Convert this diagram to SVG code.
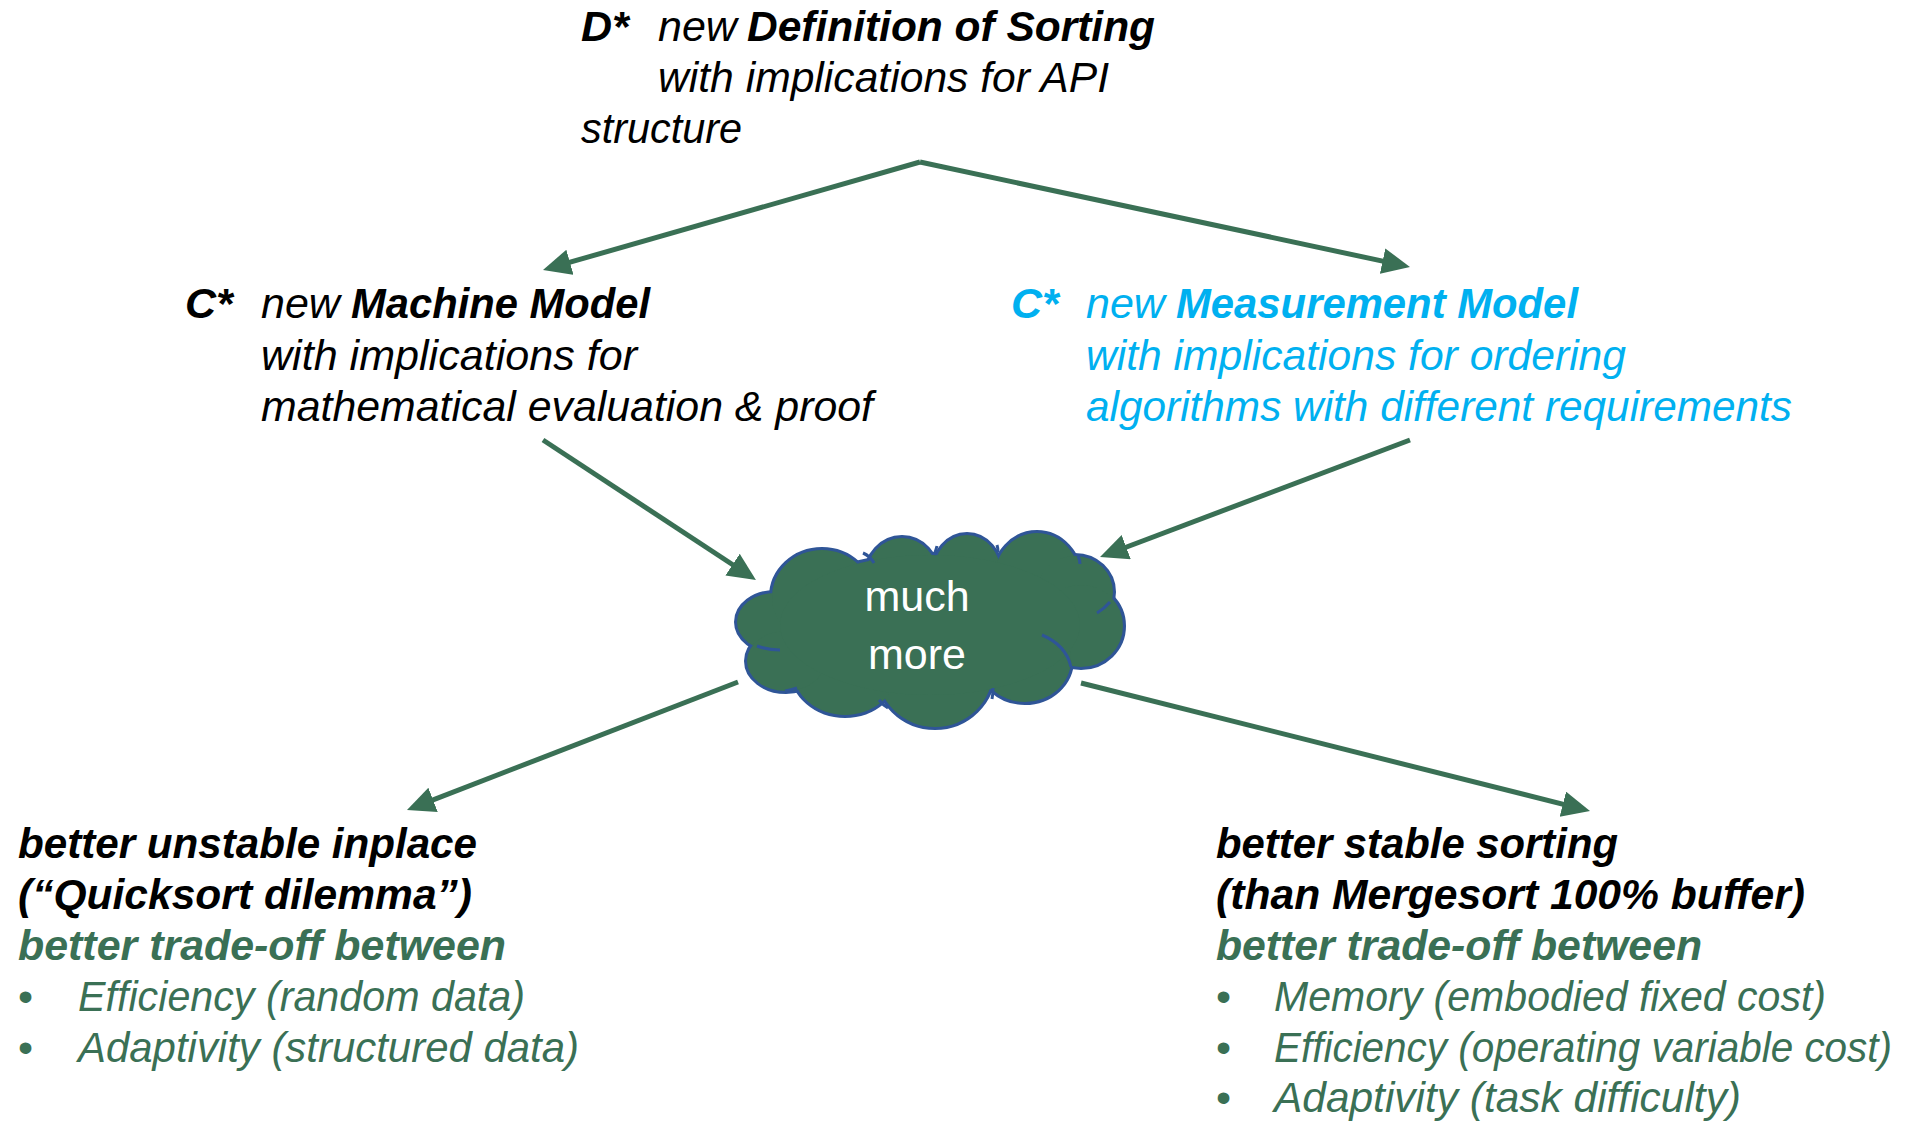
<svg xmlns="http://www.w3.org/2000/svg" width="1906" height="1123" viewBox="0 0 1906 1123">
<style>
text{font-family:"Liberation Sans",Arial,sans-serif;font-size:43px;font-style:italic}
.b{font-weight:bold}
.k{fill:#000}
.c{fill:#00B0F0}
.g{fill:#3A7055}
.bul{font-style:normal}
.conn line{stroke:#3A7055;stroke-width:5;marker-end:url(#ah)}
.inner{fill:none;stroke:#2F5597;stroke-width:3}
</style>
<defs>
<marker id="ah" markerUnits="userSpaceOnUse" markerWidth="30" markerHeight="28" refX="18" refY="13" orient="auto" viewBox="0 0 30 28">
<path d="M0,0 L28,13 L0,26 Z" fill="#3A7055"/>
</marker>
<g id="cloudShapes">
<ellipse cx="775" cy="622" rx="38" ry="29"/>
<ellipse cx="822" cy="597" rx="50" ry="47"/>
<ellipse cx="902" cy="577" rx="36" ry="39"/>
<ellipse cx="967" cy="574" rx="34" ry="39"/>
<ellipse cx="1037" cy="580" rx="43" ry="47"/>
<ellipse cx="1075" cy="592" rx="38" ry="36"/>
<ellipse cx="1081" cy="626" rx="42" ry="41"/>
<ellipse cx="1025" cy="660" rx="46" ry="42"/>
<ellipse cx="935" cy="670" rx="58" ry="57"/>
<ellipse cx="845" cy="670" rx="52" ry="45"/>
<ellipse cx="786" cy="661" rx="39" ry="30"/>
<ellipse cx="930" cy="625" rx="150" ry="70"/>
</g>
</defs>
<rect width="1906" height="1123" fill="#fff"/>

<g id="connectors" class="conn">
<line x1="920" y1="162" x2="552.6" y2="267.2"/>
<line x1="920" y1="162" x2="1400.2" y2="264.9"/>
<line x1="543" y1="440" x2="747.6" y2="574.5"/>
<line x1="1410" y1="440" x2="1109.4" y2="553.5"/>
<line x1="738" y1="682" x2="416.3" y2="806.4"/>
<line x1="1081" y1="683" x2="1580.3" y2="808.6"/>
</g>

<g id="node-definition">
<text x="581" y="41" class="b k">D*</text>
<text x="658" y="41" class="k">new</text>
<text x="747" y="41" class="b k" textLength="408" lengthAdjust="spacingAndGlyphs">Definition of Sorting</text>
<text x="658" y="92" class="k" textLength="451" lengthAdjust="spacingAndGlyphs">with implications for API</text>
<text x="581" y="143" class="k" textLength="161" lengthAdjust="spacingAndGlyphs">structure</text>
</g>

<g id="node-machine">
<text x="185" y="318" class="b k">C*</text>
<text x="261" y="318" class="k">new</text>
<text x="351" y="318" class="b k" textLength="299" lengthAdjust="spacingAndGlyphs">Machine Model</text>
<text x="261" y="370" class="k" textLength="376" lengthAdjust="spacingAndGlyphs">with implications for</text>
<text x="261" y="421" class="k" textLength="612" lengthAdjust="spacingAndGlyphs">mathematical evaluation &amp; proof</text>
</g>

<g id="node-measurement">
<text x="1011" y="318" class="b c">C*</text>
<text x="1086" y="318" class="c">new</text>
<text x="1176" y="318" class="b c" textLength="402" lengthAdjust="spacingAndGlyphs">Measurement Model</text>
<text x="1086" y="370" class="c" textLength="540" lengthAdjust="spacingAndGlyphs">with implications for ordering</text>
<text x="1086" y="421" class="c" textLength="706" lengthAdjust="spacingAndGlyphs">algorithms with different requirements</text>
</g>

<g id="node-cloud">
<use href="#cloudShapes" fill="#2F5597" stroke="#2F5597" stroke-width="6"/>
<use href="#cloudShapes" fill="#3A7055" stroke="none"/>
<path class="inner" d="M863,553 Q870,556 874,563"/>
<path class="inner" d="M937,546 Q936,550 934,555"/>
<path class="inner" d="M997,545 Q998,548 998,552"/>
<path class="inner" d="M1078,556 Q1080,560 1080,564"/>
<path class="inner" d="M1110,602 Q1104,609 1097,613"/>
<path class="inner" d="M1042,635 Q1066,645 1071,667"/>
<path class="inner" d="M993,688 Q993,694 992,699"/>
<path class="inner" d="M879,700 Q883,705 888,708"/>
<path class="inner" d="M797,688 Q791,690 785,691"/>
<path class="inner" d="M757,646 Q768,650 780,650"/>
<text x="917" y="611" text-anchor="middle" style="font-style:normal" fill="#fff">much</text>
<text x="917" y="669" text-anchor="middle" style="font-style:normal" fill="#fff">more</text>
</g>

<g id="node-unstable">
<text x="18" y="858" class="b k" textLength="459" lengthAdjust="spacingAndGlyphs">better unstable inplace</text>
<text x="18" y="909" class="b k" textLength="454" lengthAdjust="spacingAndGlyphs">(“Quicksort dilemma”)</text>
<text x="18" y="960" class="b g" textLength="488" lengthAdjust="spacingAndGlyphs">better trade-off between</text>
<text x="18" y="1011" class="g bul">•</text>
<text x="78" y="1011" class="g" textLength="447" lengthAdjust="spacingAndGlyphs">Efficiency (random data)</text>
<text x="18" y="1062" class="g bul">•</text>
<text x="78" y="1062" class="g" textLength="501" lengthAdjust="spacingAndGlyphs">Adaptivity (structured data)</text>
</g>

<g id="node-stable">
<text x="1216" y="858" class="b k" textLength="402" lengthAdjust="spacingAndGlyphs">better stable sorting</text>
<text x="1216" y="909" class="b k" textLength="589" lengthAdjust="spacingAndGlyphs">(than Mergesort 100% buffer)</text>
<text x="1216" y="960" class="b g" textLength="486" lengthAdjust="spacingAndGlyphs">better trade-off between</text>
<text x="1216" y="1011" class="g bul">•</text>
<text x="1274" y="1011" class="g" textLength="552" lengthAdjust="spacingAndGlyphs">Memory (embodied fixed cost)</text>
<text x="1216" y="1062" class="g bul">•</text>
<text x="1274" y="1062" class="g" textLength="618" lengthAdjust="spacingAndGlyphs">Efficiency (operating variable cost)</text>
<text x="1216" y="1112" class="g bul">•</text>
<text x="1274" y="1112" class="g" textLength="467" lengthAdjust="spacingAndGlyphs">Adaptivity (task difficulty)</text>
</g>
</svg>
